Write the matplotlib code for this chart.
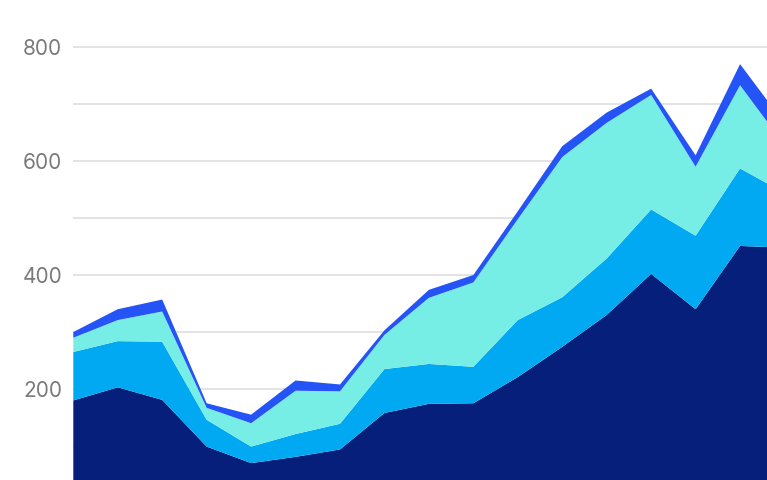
import matplotlib
matplotlib.use("Agg")
import matplotlib.pyplot as plt
import numpy as np

# Data (layer values, stacked bottom to top)
periods = list(range(17))
series_navy = [180, 203, 181, 99, 70, 81, 94, 158, 174, 175, 221, 274, 330, 402, 340, 451, 448]
series_sky = [85, 81, 102, 47, 29, 40, 45, 77, 70, 64, 100, 87, 99, 113, 129, 136, 96]
series_cyan = [25, 37, 53, 21, 41, 76, 57, 60, 116, 148, 177, 246, 238, 201, 121, 146, 84]
series_blue = [10, 19, 21, 8, 15, 18, 12, 8, 14, 13, 14, 19, 18, 11, 20, 37, 38]
tick_values = [200, 400, 600, 800]
tick_labels = ["200", "400", "600", "800"]
grid_values = [100, 200, 300, 400, 500, 600, 700, 800]

colors = ["#061f7a", "#00a9f2", "#76eee6", "#2453f6"]

W, H = 767, 480
fig = plt.figure(figsize=(W / 100, H / 100), dpi=100)
ax = fig.add_axes([73.3 / W, 0, 1 - 73.3 / W, 1])

ax.stackplot(periods, series_navy, series_sky, series_cyan, series_blue,
             colors=colors, linewidth=0, zorder=2)

for g in grid_values:
    ax.axhline(g, color="#e3e3e3", linewidth=1.4, zorder=1)

ax.set_xlim(0, (W - 73.3) / 44.45)
ax.set_ylim(40.4, 882.5)
ax.set_yticks(tick_values)
ax.set_yticklabels(tick_labels)
ax.tick_params(axis="y", length=0, pad=8, labelsize=15, labelcolor="#7a7a7a")
for lbl in ax.get_yticklabels():
    lbl.set_fontfamily(["Inter", "DejaVu Sans"])
ax.set_xticks([])
for s in ax.spines.values():
    s.set_visible(False)
ax.set_facecolor("white")

fig.savefig("out.png", dpi=100, facecolor="white")
